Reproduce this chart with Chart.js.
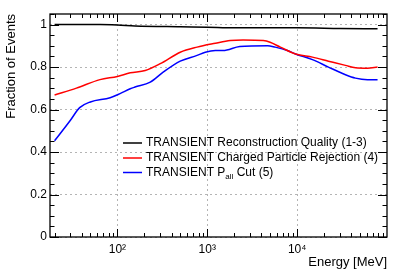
<!DOCTYPE html>
<html>
<head>
<meta charset="utf-8">
<script src="https://cdn.jsdelivr.net/npm/chart.js@4"></script>
<style>
  html, body { margin: 0; padding: 0; background: #fff; }
  #wrap { width: 399px; height: 273px; }
</style>
</head>
<body>
<div id="wrap"><canvas id="c"></canvas></div>
<script>
// values
const energyRec = [20, 64, 100, 157, 500, 1000, 2000, 10000, 30000, 78500];
const fracRec = [1.0, 1.0, 0.998, 0.994, 0.99, 0.988, 0.985, 0.985, 0.982, 0.98];

const energyChg = [20, 35, 64, 100, 139, 204, 300, 500, 770, 1230, 1800, 2500, 4200, 5000, 6500, 9600, 14800, 22300, 34500, 44600, 60700, 78500];
const fracChg = [0.669, 0.701, 0.741, 0.756, 0.773, 0.784, 0.816, 0.870, 0.894, 0.912, 0.925, 0.928, 0.925, 0.917, 0.894, 0.862, 0.847, 0.828, 0.808, 0.797, 0.795, 0.80];

const energyPall = [20, 30, 38, 50, 83, 107, 139, 157, 232, 323, 500, 770, 950, 1230, 1500, 2300, 4700, 5700, 7800, 9600, 14800, 22300, 34500, 44600, 60700, 78500];
const fracPall = [0.453, 0.550, 0.609, 0.636, 0.656, 0.675, 0.698, 0.706, 0.729, 0.776, 0.828, 0.855, 0.870, 0.878, 0.878, 0.897, 0.901, 0.894, 0.878, 0.862, 0.835, 0.80, 0.764, 0.748, 0.741, 0.741];

const seriesLabels = [
  'TRANSIENT Reconstruction Quality (1-3)',
  'TRANSIENT Charged Particle Rejection (4)',
  'TRANSIENT P_all Cut (5)'
];
const xTickValues = [100, 1000, 10000];
const xTickLabels = ['10²', '10³', '10⁴'];
const yTickValues = [0, 0.2, 0.4, 0.6, 0.8, 1];
const yTickLabels = ['0', '0.2', '0.4', '0.6', '0.8', '1'];

const FONT = 'Liberation Sans, Arial, Helvetica, sans-serif';

const pts = (xs, ys) => xs.map((x, i) => ({ x: x, y: ys[i] }));

// ROOT-like frame with inward ticks on all four sides
const framePlugin = {
  id: 'frame',
  afterDatasetsDraw(chart) {
    const { ctx, chartArea: a, scales } = chart;
    const xs = scales.x, ys = scales.y;
    ctx.save();
    ctx.strokeStyle = '#000';
    ctx.lineWidth = 1;
    ctx.beginPath();
    // x ticks
    for (let d = 10; d <= 10000; d *= 10) {
      for (let m = 1; m <= 9; m++) {
        const v = m * d;
        if (v < xs.min || v > xs.max) continue;
        const px = Math.round(xs.getPixelForValue(v)) + 0.5;
        const len = m === 1 ? 8 : 4;
        ctx.moveTo(px, a.bottom); ctx.lineTo(px, a.bottom - len);
        ctx.moveTo(px, a.top); ctx.lineTo(px, a.top + len);
      }
    }
    // y ticks
    for (let i = 0; i <= 21; i++) {
      const v = i * 0.05;
      if (v > ys.max) continue;
      const py = Math.round(ys.getPixelForValue(v)) + 0.5;
      const len = i % 4 === 0 ? 9 : 4.5;
      ctx.moveTo(a.left, py); ctx.lineTo(a.left + len, py);
      ctx.moveTo(a.right, py); ctx.lineTo(a.right - len, py);
    }
    ctx.stroke();
    ctx.lineWidth = 1.3;
    ctx.strokeRect(a.left, a.top, a.right - a.left, a.bottom - a.top);
    ctx.restore();
  }
};

// legend inside the pad, with subscript support for "P_all"
const legendPlugin = {
  id: 'rootLegend',
  afterDatasetsDraw(chart) {
    const ctx = chart.ctx;
    const rows = [143, 158, 172.5];
    ctx.save();
    chart.data.datasets.forEach((ds, i) => {
      const y = rows[i];
      ctx.strokeStyle = ds.borderColor;
      ctx.lineWidth = 1.5;
      ctx.beginPath();
      ctx.moveTo(123, y); ctx.lineTo(142, y);
      ctx.stroke();
      ctx.fillStyle = '#000';
      ctx.textBaseline = 'middle';
      let x = 146;
      const parts = ds.label.split(/_(\w+)/);
      parts.forEach((p, j) => {
        if (j % 2 === 1) {
          ctx.font = '8px ' + FONT;
          ctx.fillText(p, x, y + 4);
        } else {
          ctx.font = '12px ' + FONT;
          ctx.fillText(p, x, y);
        }
        x += ctx.measureText(p).width;
      });
    });
    ctx.restore();
  }
};

const lineStyle = { borderWidth: 1.5, pointRadius: 0, tension: 0.4, cubicInterpolationMode: 'monotone', fill: false };

new Chart(document.getElementById('c'), {
  type: 'line',
  data: {
    datasets: [
      Object.assign({ label: seriesLabels[0], data: pts(energyRec, fracRec), borderColor: '#000000' }, lineStyle),
      Object.assign({ label: seriesLabels[1], data: pts(energyChg, fracChg), borderColor: '#ff0000' }, lineStyle),
      Object.assign({ label: seriesLabels[2], data: pts(energyPall, fracPall), borderColor: '#0000ff' }, lineStyle)
    ]
  },
  options: {
    responsive: true,
    maintainAspectRatio: false,
    animation: false,
    layout: { padding: { top: 14, right: 12, left: 0, bottom: 0 } },
    plugins: {
      legend: { display: false },
      tooltip: { enabled: false }
    },
    scales: {
      x: {
        type: 'logarithmic',
        min: Math.pow(10, 1.25),
        max: 100000,
        afterBuildTicks(s) { s.ticks = xTickValues.map(v => ({ value: v })); },
        afterFit(s) { s.height = 36; },
        ticks: {
          autoSkip: false,
          maxRotation: 0,
          padding: 5,
          color: '#000',
          font: { family: FONT, size: 12 },
          callback: (v) => xTickLabels[xTickValues.indexOf(v)] || ''
        },
        grid: { color: '#b4b4b4', lineWidth: 1, drawTicks: false },
        border: { display: false, dash: [2, 3] },
        title: {
          display: true, text: 'Energy [MeV]', align: 'end', color: '#000',
          font: { family: FONT, size: 13 }, padding: { top: 0, bottom: 3 }
        }
      },
      y: {
        min: 0,
        max: 1.05,
        afterBuildTicks(s) { s.ticks = yTickValues.map(v => ({ value: v })); },
        afterFit(s) { s.width = 50; },
        ticks: {
          padding: 3,
          color: '#000',
          font: { family: FONT, size: 12 },
          callback: (v) => yTickLabels[yTickValues.indexOf(v)] || ''
        },
        grid: { color: '#b4b4b4', lineWidth: 1, drawTicks: false },
        border: { display: false, dash: [2, 3] },
        title: {
          display: true, text: 'Fraction of Events', align: 'end', color: '#000',
          font: { family: FONT, size: 13 }, padding: { top: 4, bottom: 4 }
        }
      }
    }
  },
  plugins: [framePlugin, legendPlugin]
});
</script>
</body>
</html>
